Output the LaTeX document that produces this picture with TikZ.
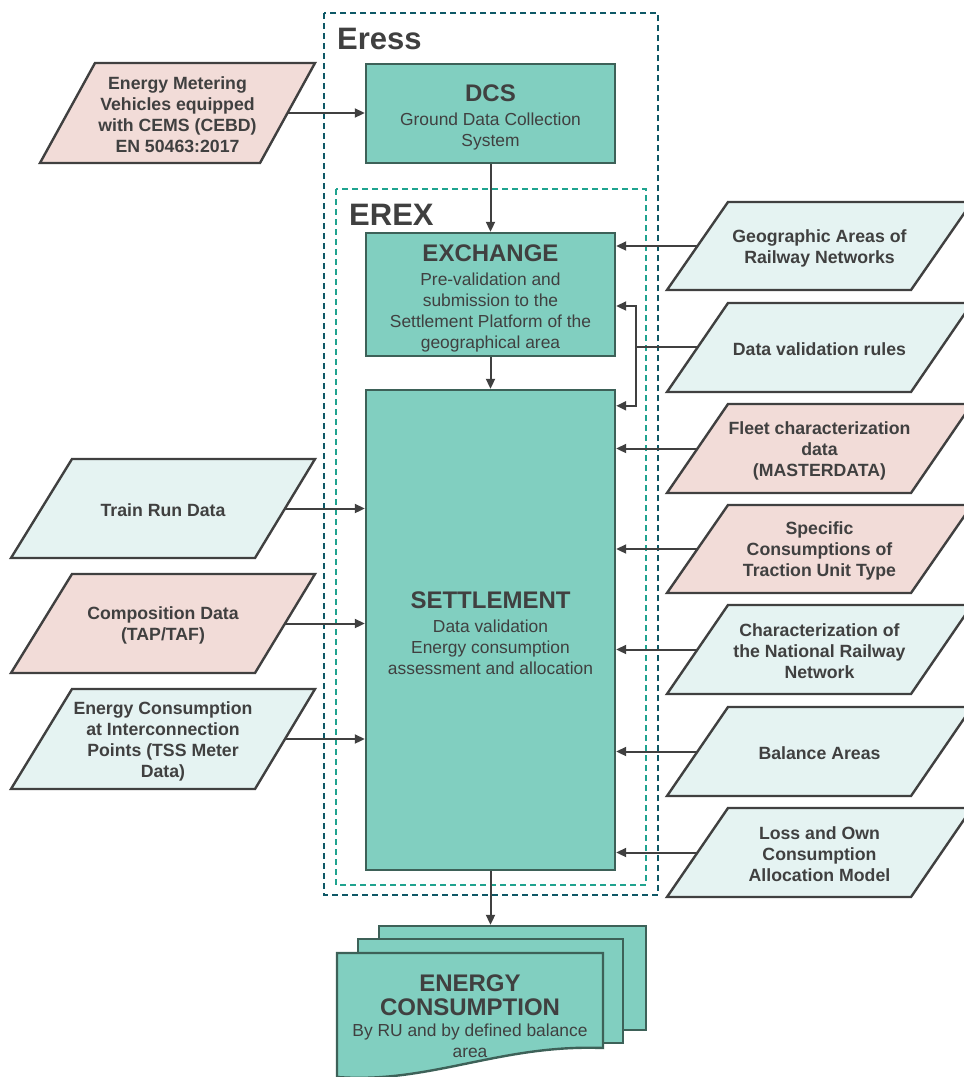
\documentclass[tikz,border=0pt]{standalone}
\usepackage{fontspec}
\setmainfont{Liberation Sans}
\usepackage{xcolor}
\usetikzlibrary{arrows.meta,positioning,calc}
\definecolor{boxteal}  {HTML}{81CFC0}
\definecolor{boxedge}  {HTML}{3D6158}
\definecolor{pinkfill} {HTML}{F2DCD8}
\definecolor{icefill}  {HTML}{E5F3F2}
\definecolor{ink}      {HTML}{404040}
\definecolor{eressline}{HTML}{0E5866}
\definecolor{erexline} {HTML}{20A38F}
\newcommand{\ttl}{\fontsize{24}{24}\selectfont\bfseries}
\newcommand{\bdy}{\fontsize{17.4}{21}\selectfont\mdseries}

\begin{document}
\begin{tikzpicture}[x=1pt,y=-1pt,
  procbox/.style={draw=boxedge,fill=boxteal,line width=2.4pt,text=ink,align=center,inner sep=0pt,font=\bdy},
  inshape/.style={draw=ink,line width=2.4pt,line join=miter},
  intext/.style={text=ink,align=center,inner sep=0pt,yshift=-2pt,font=\fontsize{17.7}{21}\selectfont\bfseries},
  flow/.style={draw=ink,line width=2pt,-{Triangle[length=10pt,width=9pt]}},
  link/.style={draw=ink,line width=2pt},
  zonelabel/.style={text=ink,anchor=west,inner sep=0pt,font=\fontsize{31}{31}\selectfont\bfseries}]
\useasboundingbox (0,0) rectangle (964,1077);
\clip (0,0) rectangle (964,1077);
\draw[eressline,line width=2pt,dash pattern=on 6pt off 4pt] (324,13) rectangle (658,895);
\draw[erexline,line width=2pt,dash pattern=on 6pt off 4pt] (336,189) rectangle (646,885);
\node[zonelabel] (eresslbl) at (337,39) {Eress};
\node[zonelabel] (erexlbl) at (349,215) {EREX};
\node[procbox,minimum width=249,minimum height=99] (dcs) at (490.5,113.5) {\ttl\rule{0pt}{25pt}DCS\\[3pt] \bdy Ground Data Collection\\ \bdy System};
\node[procbox,minimum width=249,minimum height=123] (exch) at (490.5,294.5) {\ttl\rule{0pt}{25pt}EXCHANGE\\[3pt] \bdy Pre-validation and\\ \bdy submission to the\\ \bdy Settlement Platform of the\\ \bdy geographical area};
\node[procbox,minimum width=249,minimum height=480] (settle) at (490.5,630) {\ttl\rule{0pt}{23pt}SETTLEMENT\\[3pt] \bdy Data validation\\ \bdy Energy consumption\\ \bdy assessment and allocation};
\node[procbox,minimum width=267,minimum height=104] (doc3) at (512.5,978) {};
\node[procbox,minimum width=265,minimum height=104] (doc2) at (490.5,991) {};
\draw[draw=boxedge,fill=boxteal,line width=2.4pt] (337,953) -- (603,953) -- (603,1048) .. controls (500,1044) and (430,1084) .. (337,1077) -- cycle;
\node[procbox,draw=none,fill=none] (energy) at (470,1016) {\ttl ENERGY\\[3pt] \ttl CONSUMPTION\\[0pt] \bdy By RU and by defined balance\\ \bdy area};
\draw[inshape,fill=pinkfill] (95,63) -- (315,63) -- (260,163) -- (40,163) -- cycle;
\node[intext] (meter) at (177.5,113) {Energy Metering\\Vehicles equipped\\with CEMS (CEBD)\\EN 50463:2017};
\coordinate (meter-out) at (287.5,113);
\draw[inshape,fill=icefill] (72,459) -- (315,459) -- (255,558) -- (11,558) -- cycle;
\node[intext] (trainrun) at (163,508.5) {Train Run Data};
\coordinate (trainrun-out) at (285,508.5);
\draw[inshape,fill=pinkfill] (72,574) -- (315,574) -- (255,673) -- (11,673) -- cycle;
\node[intext] (compo) at (163,623.5) {Composition Data\\(TAP/TAF)};
\coordinate (compo-out) at (285,623.5);
\draw[inshape,fill=icefill] (72,689) -- (315,689) -- (255,789) -- (11,789) -- cycle;
\node[intext] (tss) at (163,739) {Energy Consumption\\at Interconnection\\Points (TSS Meter\\Data)};
\coordinate (tss-out) at (285,739);
\draw[inshape,fill=icefill] (728,202) -- (972,202) -- (911,290) -- (667,290) -- cycle;
\node[intext] (geo) at (819.5,246) {Geographic Areas of\\Railway Networks};
\coordinate (geo-in) at (697,246);
\draw[inshape,fill=icefill] (728,303) -- (972,303) -- (911,392) -- (667,392) -- cycle;
\node[intext] (dval) at (819.5,347.5) {Data validation rules};
\coordinate (dval-in) at (697,347);
\coordinate (dval-split) at (636,347);
\draw[inshape,fill=pinkfill] (728,404) -- (972,404) -- (911,493) -- (667,493) -- cycle;
\node[intext] (fleet) at (819.5,448.5) {Fleet characterization\\data\\(MASTERDATA)};
\coordinate (fleet-in) at (697,448.5);
\draw[inshape,fill=pinkfill] (728,505) -- (972,505) -- (911,593) -- (667,593) -- cycle;
\node[intext] (specific) at (819.5,549) {Specific\\Consumptions of\\Traction Unit Type};
\coordinate (specific-in) at (697,549);
\draw[inshape,fill=icefill] (728,605) -- (972,605) -- (911,694) -- (667,694) -- cycle;
\node[intext] (network) at (819.5,649.5) {Characterization of\\the National Railway\\Network};
\coordinate (network-in) at (697,649.5);
\draw[inshape,fill=icefill] (728,707) -- (972,707) -- (911,796) -- (667,796) -- cycle;
\node[intext] (balance) at (819.5,751.5) {Balance Areas};
\coordinate (balance-in) at (697,751.5);
\draw[inshape,fill=icefill] (728,808) -- (972,808) -- (911,897) -- (667,897) -- cycle;
\node[intext] (loss) at (819.5,852.5) {Loss and Own\\Consumption\\Allocation Model};
\coordinate (loss-in) at (697,852.5);
\draw[flow] (meter-out) -- (meter-out -| dcs.west);
\draw[flow] (dcs.south) -- (exch.north);
\draw[flow] (exch.south) -- (settle.north);
\draw[flow] (settle.south) -- (settle.south |- doc3.north);
\draw[flow] (trainrun-out) -- (trainrun-out -| settle.west);
\draw[flow] (compo-out) -- (compo-out -| settle.west);
\draw[flow] (tss-out) -- (tss-out -| settle.west);
\draw[flow] (geo-in) -- (geo-in -| exch.east);
\draw[link] (dval-in) -- (dval-split);
\draw[flow] (dval-split) |- ([yshift=-11.5pt]exch.east);
\draw[flow] (dval-split) |- ([yshift=-17pt]settle.north east);
\draw[flow] (fleet-in) -- (fleet-in -| settle.east);
\draw[flow] (specific-in) -- (specific-in -| settle.east);
\draw[flow] (network-in) -- (network-in -| settle.east);
\draw[flow] (balance-in) -- (balance-in -| settle.east);
\draw[flow] (loss-in) -- (loss-in -| settle.east);
\end{tikzpicture}
\end{document}
